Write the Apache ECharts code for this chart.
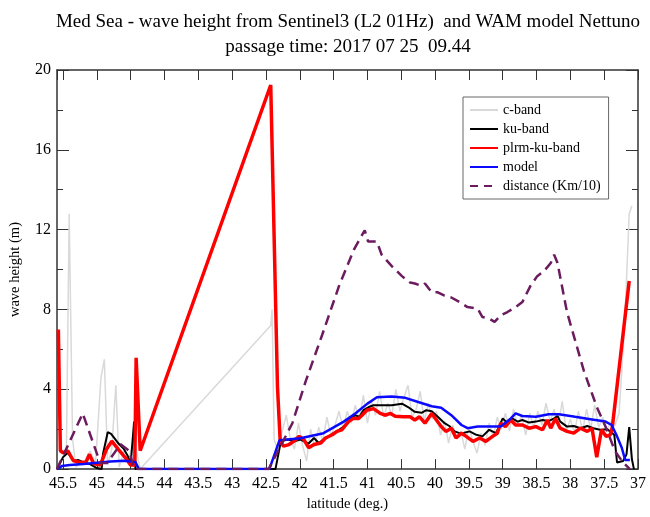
<!DOCTYPE html>
<html lang="en">
<head>
  <meta charset="UTF-8">
  <title>Med Sea wave height</title>
  <script src="https://cdn.jsdelivr.net/npm/echarts@6/dist/echarts.min.js"></script>
  <style>
    body { margin: 0; background: #fff; }
  </style>
</head>
<body>
<div id="box" style="width: 650px;height: 517px;"></div>
<script>
  // c-band (grey)
  var cLat = [45.58, 45.50, 45.45, 45.41, 45.36, 45.31, 45.25, 45.18, 45.10, 45.02, 44.94, 44.89, 44.84, 44.78, 44.72, 44.67, 44.60, 44.52, 44.45, 44.36,
    42.43, 42.41, 42.38, 42.33, 42.26, 42.20, 42.14, 42.08, 42.02, 41.96, 41.90, 41.84, 41.78, 41.72, 41.66, 41.60, 41.54, 41.48, 41.42, 41.36, 41.30,
    41.24, 41.18, 41.12, 41.06, 41.00, 40.94, 40.88, 40.82, 40.76, 40.70, 40.64, 40.58, 40.52, 40.46, 40.40, 40.34, 40.28, 40.22, 40.16, 40.10, 40.04,
    39.98, 39.92, 39.86, 39.80, 39.74, 39.68, 39.62, 39.56, 39.50, 39.44, 39.38, 39.32, 39.26, 39.20, 39.14, 39.08, 39.02, 38.96, 38.90, 38.84, 38.78,
    38.72, 38.66, 38.60, 38.54, 38.48, 38.42, 38.36, 38.30, 38.24, 38.18, 38.12, 38.06, 38.00, 37.94, 37.88, 37.82, 37.76, 37.70, 37.64, 37.58, 37.52,
    37.46, 37.40, 37.34, 37.28, 37.20, 37.13, 37.09];
  var cBand = [0.1, 0.6, 1.2, 12.8, 1.5, 0.1, 0.3, 0.4, 0.9, 0.3, 4.6, 5.5, 0.2, 1.0, 4.2, 0.1, 0.9, 0.6, 1.5, 0.0,
    7.2, 8.0, 1.5, 1.0, 1.9, 2.7, 1.5, 1.0, 2.3, 1.2, 0.4, 2.0, 1.1, 2.1, 1.4, 2.6, 1.7, 2.2, 2.9, 2.0, 2.9,
    2.3, 3.2, 2.5, 3.7, 2.3, 3.4, 2.7, 3.9, 2.6, 3.3, 2.7, 4.0, 2.9, 3.6, 4.2, 2.6, 3.0, 3.9, 2.4, 3.3, 2.5,
    2.9, 1.7, 2.4, 1.3, 2.2, 1.6, 1.9, 1.0, 2.1, 1.4, 0.8, 1.8, 1.2, 2.3, 1.6, 2.6, 2.0, 2.8, 1.9, 3.0, 2.2,
    2.7, 1.7, 2.8, 2.1, 2.9, 2.2, 3.3, 2.4, 3.0, 2.1, 3.4, 1.9, 2.5, 1.8, 2.9, 1.9, 3.0, 2.0, 3.2, 2.1, 2.6,
    1.9, 2.4, 2.2, 2.8, 7.0, 12.8, 13.2];

  // ku-band (black)
  var kuLat = [45.59, 45.50, 45.43, 45.38, 45.33, 45.28, 45.20, 45.11, 45.00, 44.93, 44.91, 44.84, 44.79, 44.68, 44.60, 44.55, 44.50, 44.45, 44.43,
    42.36, 42.28, 42.18, 42.08, 41.99, 41.87, 41.79, 41.72, 41.65, 41.57, 41.50, 41.42, 41.35, 41.25, 41.18, 41.12, 41.06, 40.98, 40.91, 40.81,
    40.69, 40.64, 40.49, 40.40, 40.30, 40.20, 40.13, 40.05, 39.96, 39.86, 39.79, 39.71, 39.64, 39.57, 39.49, 39.39, 39.30, 39.20, 39.10, 39.00,
    38.93, 38.86, 38.78, 38.71, 38.61, 38.51, 38.41, 38.32, 38.24, 38.19, 38.15, 38.05, 37.95, 37.85, 37.75, 37.66, 37.56, 37.46, 37.39, 37.35,
    37.31, 37.22, 37.17, 37.13, 37.09, 37.06];
  var kuBand = [0, 0.6, 0.82, 0.57, 0.41, 0.46, 0.33, 0.26, 0.05, 0, 0.76, 1.85, 1.77, 1.28, 1.0, 0.7, 0.27, 2.38, 0,
    0, 1.39, 1.48, 1.39, 1.48, 1.28, 1.56, 1.31, 1.48, 1.64, 1.80, 1.97, 2.13, 2.54, 2.70, 2.62, 2.95, 3.11, 3.20, 3.20,
    3.20, 3.20, 3.28, 3.11, 2.87, 2.82, 2.95, 2.90, 2.62, 2.30, 2.16, 1.89, 1.80, 1.82, 1.89, 1.72, 1.64, 1.97, 1.80, 2.54,
    2.30, 2.54, 2.38, 2.46, 2.33, 2.38, 2.46, 2.40, 2.54, 2.66, 2.38, 2.13, 2.16, 2.05, 2.16, 2.05, 1.97, 2.00, 1.84, 1.70,
    0.33, 0.41, 0.74, 2.10, 0.49, 0];

  // plrm-ku-band (red)
  var plrmLat = [45.57, 45.54, 45.50, 45.43, 45.35, 45.25, 45.16, 45.11, 45.05, 44.95, 44.86, 44.78, 44.68, 44.58, 44.50, 44.44, 44.42, 44.36,
    42.43, 42.33, 42.29, 42.24, 42.16, 42.09, 42.01, 41.94, 41.87, 41.79, 41.69, 41.62, 41.52, 41.45, 41.38, 41.28, 41.21, 41.13, 41.08, 41.01,
    40.91, 40.81, 40.74, 40.66, 40.59, 40.47, 40.37, 40.30, 40.23, 40.15, 40.05, 39.98, 39.91, 39.84, 39.76, 39.69, 39.61, 39.54, 39.44, 39.34,
    39.25, 39.15, 39.08, 39.03, 38.96, 38.88, 38.81, 38.71, 38.61, 38.51, 38.41, 38.34, 38.29, 38.22, 38.15, 38.05, 37.95, 37.85, 37.75, 37.68,
    37.61, 37.54, 37.47, 37.41, 37.38, 37.13];
  var plrmKuBand = [7.0, 0.92, 0.82, 0.92, 0.43, 0.33, 0.36, 0.74, 0.28, 0.2, 0.98, 1.4, 0.98, 0.58, 0.2, 0.2, 5.58, 0.92,
    19.25, 4.1, 1.4, 1.15, 1.23, 1.39, 1.64, 1.48, 1.07, 1.23, 1.31, 1.56, 1.72, 1.89, 1.97, 2.38, 2.54, 2.54, 2.70, 2.95,
    3.03, 2.79, 2.70, 2.79, 2.65, 2.62, 2.62, 2.46, 2.62, 2.30, 2.79, 2.46, 2.13, 1.89, 2.05, 1.56, 1.80, 1.64, 1.39, 1.56,
    1.39, 1.64, 1.80, 2.30, 2.13, 2.46, 2.21, 2.21, 2.05, 2.13, 1.97, 2.46, 2.05, 2.54, 2.05, 1.89, 1.80, 2.05, 1.89, 2.05,
    0.60, 1.97, 1.64, 1.72, 2.10, 9.43];

  // model (blue)
  var modelLat = [45.59, 45.52, 45.40, 45.20, 45.00, 44.80, 44.60, 44.50, 44.43, 44.38,
    42.45, 42.30, 41.99, 41.65, 41.35, 41.18, 41.00, 40.86, 40.64, 40.44, 40.25, 40.05, 39.91, 39.76, 39.61, 39.52, 39.37, 39.17,
    39.03, 38.88, 38.81, 38.71, 38.51, 38.32, 38.17, 37.93, 37.68, 37.48, 37.39, 37.31, 37.24, 37.19, 37.12];
  var model = [0, 0.15, 0.20, 0.25, 0.32, 0.38, 0.42, 0.38, 0.35, 0,
    0, 1.45, 1.55, 1.80, 2.38, 2.79, 3.28, 3.60, 3.64, 3.57, 3.36, 3.15, 3.08, 2.70, 2.21, 2.05, 2.13, 2.13,
    2.13, 2.54, 2.79, 2.66, 2.62, 2.75, 2.75, 2.62, 2.49, 2.38, 2.21, 1.64, 1.07, 0.46, 0.46];

  // distance (Km/10), dashed
  var distLat = [45.59, 45.21, 44.95, 44.85, 44.65, 44.52, 44.45,
    42.46, 42.11, 41.91, 41.67, 41.42, 41.20, 41.04, 40.99, 40.86, 40.79, 40.64, 40.49, 40.37, 40.30, 40.20, 40.15, 40.05, 39.96, 39.86,
    39.76, 39.64, 39.52, 39.37, 39.30, 39.20, 39.12, 39.03, 38.93, 38.81, 38.71, 38.59, 38.49, 38.39, 38.29, 38.24, 38.19, 38.05, 37.80,
    37.61, 37.46, 37.34, 37.22, 37.12];
  var distance = [0, 2.79, 0.3, 0.3, 1.25, 0.9, 0,
    0, 2.3, 4.43, 6.72, 9.18, 11.0, 11.97, 11.4, 11.4, 10.74, 10.17, 9.67, 9.35, 9.30, 9.18, 9.30, 8.86, 8.86, 8.69,
    8.60, 8.37, 8.12, 8.04, 7.62, 7.54, 7.38, 7.71, 7.87, 8.12, 8.37, 9.18, 9.67, 9.92, 10.33, 10.74, 10.33, 7.87, 4.92,
    3.12, 1.97, 0.9, 0.33, 0];

  var yTicks = [0, 4, 8, 12, 16, 20];

  function pairs(xs, ys) {
    return xs.map(function (x, i) { return [x, ys[i]]; });
  }

  var font = '"Liberation Serif", "DejaVu Serif", serif';
  var frame = {show: true, onZero: false, lineStyle: {color: '#333', width: 1.5}};

  var myChart = echarts.init(document.getElementById('box'));
  var option = {
    animation: false,
    backgroundColor: '#fff',
    title: {
      text: 'Med Sea - wave height from Sentinel3 (L2 01Hz)  and WAM model Nettuno\npassage time: 2017 07 25  09.44',
      left: 343,
      top: 5,
      textAlign: 'center',
      textStyle: {fontFamily: font, fontSize: 19, fontWeight: 'normal', color: '#000', lineHeight: 25}
    },
    legend: {
      orient: 'vertical',
      left: 463,
      top: 97,
      padding: [6, 8, 6, 6],
      itemWidth: 28,
      itemHeight: 12,
      itemGap: 5,
      borderColor: '#666',
      borderWidth: 1,
      itemStyle: {opacity: 0},
      textStyle: {fontFamily: font, fontSize: 14, color: '#000'},
      data: ['c-band', 'ku-band', 'plrm-ku-band', 'model',
        {name: 'distance (Km/10)', lineStyle: {type: [8, 6]}}]
    },
    grid: {left: 53, right: 12, top: 70, bottom: 40},
    xAxis: [{
      type: 'value',
      inverse: true,
      min: 37,
      max: 45.59,
      interval: 0.5,
      name: 'latitude (deg.)',
      nameLocation: 'middle',
      nameGap: 22,
      nameTextStyle: {fontFamily: font, fontSize: 14.5, color: '#000'},
      axisLine: frame,
      axisTick: {inside: true, length: 10, lineStyle: {color: '#333'}},
      axisLabel: {fontFamily: font, fontSize: 16, color: '#000', margin: 7, showMaxLabel: false},
      splitLine: {show: false}
    }, {
      type: 'value',
      position: 'top',
      inverse: true,
      min: 37,
      max: 45.59,
      interval: 0.5,
      axisLine: frame,
      axisTick: {inside: true, length: 10, lineStyle: {color: '#333'}},
      axisLabel: {show: false},
      splitLine: {show: false}
    }],
    yAxis: [{
      type: 'value',
      min: yTicks[0],
      max: yTicks[yTicks.length - 1],
      interval: 4,
      name: 'wave height (m)',
      nameLocation: 'middle',
      nameGap: 34,
      nameTextStyle: {fontFamily: font, fontSize: 14.5, color: '#000'},
      axisLine: frame,
      axisTick: {inside: true, length: 12, lineStyle: {color: '#333'}},
      minorTick: {show: true, splitNumber: 2, length: 6, lineStyle: {color: '#333'}},
      axisLabel: {fontFamily: font, fontSize: 16, color: '#000', margin: 6},
      splitLine: {show: false}
    }, {
      type: 'value',
      position: 'right',
      min: yTicks[0],
      max: yTicks[yTicks.length - 1],
      interval: 4,
      axisLine: frame,
      axisTick: {inside: true, length: 12, lineStyle: {color: '#333'}},
      minorTick: {show: true, splitNumber: 2, length: 6, lineStyle: {color: '#333'}},
      axisLabel: {show: false},
      splitLine: {show: false}
    }],
    series: [{
      name: 'c-band',
      type: 'line',
      symbol: 'none',
      color: '#d9d9d9',
      lineStyle: {width: 1.5, color: '#d9d9d9'},
      data: pairs(cLat, cBand)
    }, {
      name: 'ku-band',
      type: 'line',
      symbol: 'none',
      color: '#000',
      lineStyle: {width: 2, color: '#000'},
      data: pairs(kuLat, kuBand)
    }, {
      name: 'plrm-ku-band',
      type: 'line',
      symbol: 'none',
      color: '#ff0000',
      lineStyle: {width: 3.5, color: '#ff0000'},
      data: pairs(plrmLat, plrmKuBand)
    }, {
      name: 'model',
      type: 'line',
      symbol: 'none',
      color: '#0a0aff',
      lineStyle: {width: 2.5, color: '#0a0aff'},
      data: pairs(modelLat, model)
    }, {
      name: 'distance (Km/10)',
      type: 'line',
      symbol: 'none',
      color: '#6b1b5e',
      lineStyle: {width: 2.5, color: '#6b1b5e', type: [10, 6]},
      data: pairs(distLat, distance)
    }]
  };
  myChart.setOption(option);
</script>
</body>
</html>
